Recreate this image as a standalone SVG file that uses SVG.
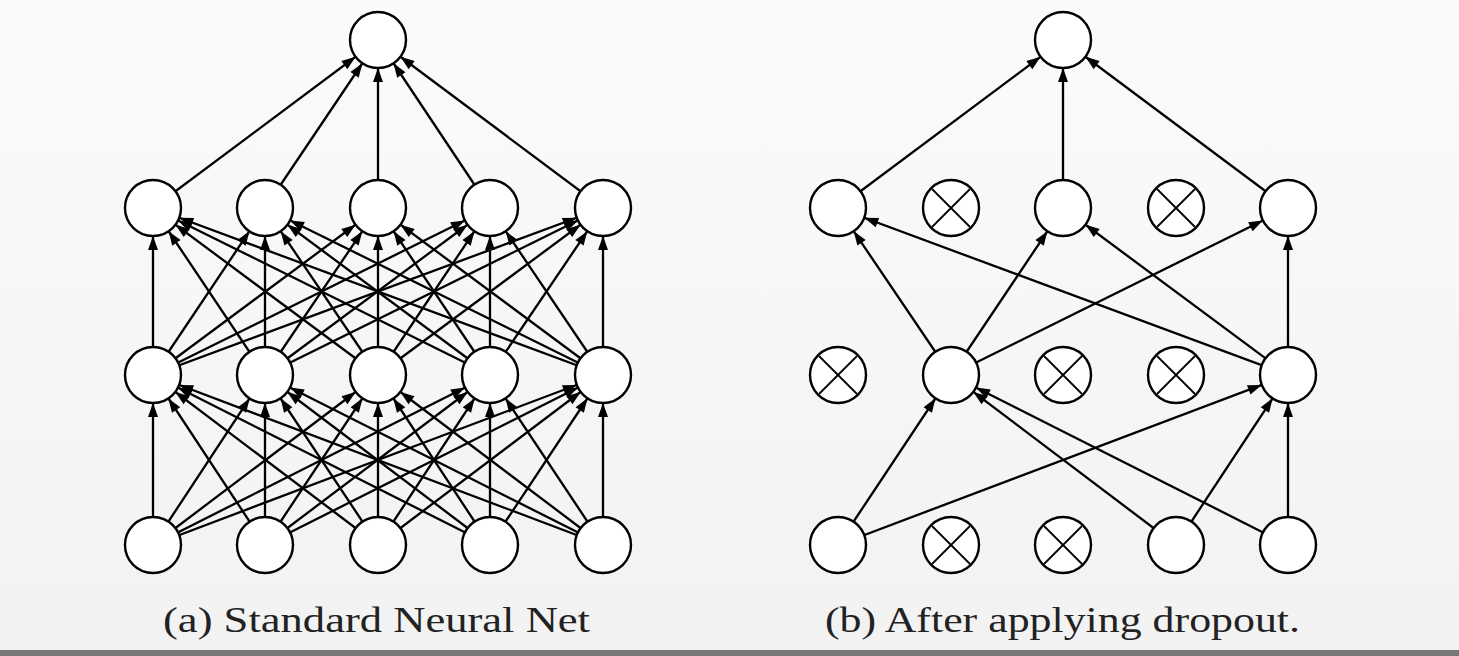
<svg xmlns="http://www.w3.org/2000/svg" width="1459" height="656" viewBox="0 0 1459 656">
<defs>
<marker id="a" markerUnits="userSpaceOnUse" orient="auto" refX="28" refY="0" overflow="visible" markerWidth="20" markerHeight="20"><path d="M-14,-5 L0,0 L-14,5 z" fill="#000"/></marker>
<style>
line.e{stroke:#000;stroke-width:2.3;marker-end:url(#a)}
circle{fill:#fff;stroke:#000;stroke-width:2.4}
.x line{stroke:#000;stroke-width:1.8}
text{font-family:"Liberation Serif",serif;font-size:35px;fill:#222}
</style>
<linearGradient id="bg" x1="0" y1="0" x2="0" y2="1"><stop offset="0" stop-color="#fbfbfb"/><stop offset="1" stop-color="#f2f2f2"/></linearGradient>
</defs>
<rect width="1459" height="656" fill="url(#bg)"/>
<rect y="650" width="1459" height="6" fill="#777"/>
<g id="connectors">
<line class="e" x1="153" y1="545" x2="153" y2="375"/><line class="e" x1="153" y1="545" x2="265" y2="375"/><line class="e" x1="153" y1="545" x2="378" y2="375"/><line class="e" x1="153" y1="545" x2="490" y2="375"/><line class="e" x1="153" y1="545" x2="603" y2="375"/>
<line class="e" x1="265" y1="545" x2="153" y2="375"/><line class="e" x1="265" y1="545" x2="265" y2="375"/><line class="e" x1="265" y1="545" x2="378" y2="375"/><line class="e" x1="265" y1="545" x2="490" y2="375"/><line class="e" x1="265" y1="545" x2="603" y2="375"/>
<line class="e" x1="378" y1="545" x2="153" y2="375"/><line class="e" x1="378" y1="545" x2="265" y2="375"/><line class="e" x1="378" y1="545" x2="378" y2="375"/><line class="e" x1="378" y1="545" x2="490" y2="375"/><line class="e" x1="378" y1="545" x2="603" y2="375"/>
<line class="e" x1="490" y1="545" x2="153" y2="375"/><line class="e" x1="490" y1="545" x2="265" y2="375"/><line class="e" x1="490" y1="545" x2="378" y2="375"/><line class="e" x1="490" y1="545" x2="490" y2="375"/><line class="e" x1="490" y1="545" x2="603" y2="375"/>
<line class="e" x1="603" y1="545" x2="153" y2="375"/><line class="e" x1="603" y1="545" x2="265" y2="375"/><line class="e" x1="603" y1="545" x2="378" y2="375"/><line class="e" x1="603" y1="545" x2="490" y2="375"/><line class="e" x1="603" y1="545" x2="603" y2="375"/>
<line class="e" x1="153" y1="375" x2="153" y2="208"/><line class="e" x1="153" y1="375" x2="265" y2="208"/><line class="e" x1="153" y1="375" x2="378" y2="208"/><line class="e" x1="153" y1="375" x2="490" y2="208"/><line class="e" x1="153" y1="375" x2="603" y2="208"/>
<line class="e" x1="265" y1="375" x2="153" y2="208"/><line class="e" x1="265" y1="375" x2="265" y2="208"/><line class="e" x1="265" y1="375" x2="378" y2="208"/><line class="e" x1="265" y1="375" x2="490" y2="208"/><line class="e" x1="265" y1="375" x2="603" y2="208"/>
<line class="e" x1="378" y1="375" x2="153" y2="208"/><line class="e" x1="378" y1="375" x2="265" y2="208"/><line class="e" x1="378" y1="375" x2="378" y2="208"/><line class="e" x1="378" y1="375" x2="490" y2="208"/><line class="e" x1="378" y1="375" x2="603" y2="208"/>
<line class="e" x1="490" y1="375" x2="153" y2="208"/><line class="e" x1="490" y1="375" x2="265" y2="208"/><line class="e" x1="490" y1="375" x2="378" y2="208"/><line class="e" x1="490" y1="375" x2="490" y2="208"/><line class="e" x1="490" y1="375" x2="603" y2="208"/>
<line class="e" x1="603" y1="375" x2="153" y2="208"/><line class="e" x1="603" y1="375" x2="265" y2="208"/><line class="e" x1="603" y1="375" x2="378" y2="208"/><line class="e" x1="603" y1="375" x2="490" y2="208"/><line class="e" x1="603" y1="375" x2="603" y2="208"/>
<line class="e" x1="153" y1="208" x2="378" y2="40"/><line class="e" x1="265" y1="208" x2="378" y2="40"/><line class="e" x1="378" y1="208" x2="378" y2="40"/><line class="e" x1="490" y1="208" x2="378" y2="40"/><line class="e" x1="603" y1="208" x2="378" y2="40"/>
<line class="e" x1="838" y1="545" x2="951" y2="375"/><line class="e" x1="838" y1="545" x2="1288" y2="375"/>
<line class="e" x1="1176" y1="545" x2="951" y2="375"/><line class="e" x1="1176" y1="545" x2="1288" y2="375"/>
<line class="e" x1="1288" y1="545" x2="951" y2="375"/><line class="e" x1="1288" y1="545" x2="1288" y2="375"/>
<line class="e" x1="951" y1="375" x2="838" y2="208"/><line class="e" x1="951" y1="375" x2="1063" y2="208"/><line class="e" x1="951" y1="375" x2="1288" y2="208"/>
<line class="e" x1="1288" y1="375" x2="838" y2="208"/><line class="e" x1="1288" y1="375" x2="1063" y2="208"/><line class="e" x1="1288" y1="375" x2="1288" y2="208"/>
<line class="e" x1="838" y1="208" x2="1063" y2="40"/><line class="e" x1="1063" y1="208" x2="1063" y2="40"/><line class="e" x1="1288" y1="208" x2="1063" y2="40"/>
</g>
<g id="left-nodes">
<circle cx="378" cy="40" r="28"/>
<circle cx="153" cy="208" r="28"/><circle cx="265" cy="208" r="28"/><circle cx="378" cy="208" r="28"/><circle cx="490" cy="208" r="28"/><circle cx="603" cy="208" r="28"/>
<circle cx="153" cy="375" r="28"/><circle cx="265" cy="375" r="28"/><circle cx="378" cy="375" r="28"/><circle cx="490" cy="375" r="28"/><circle cx="603" cy="375" r="28"/>
<circle cx="153" cy="545" r="28"/><circle cx="265" cy="545" r="28"/><circle cx="378" cy="545" r="28"/><circle cx="490" cy="545" r="28"/><circle cx="603" cy="545" r="28"/>
</g>
<g id="right-nodes">
<circle cx="1063" cy="40" r="28"/>
<circle cx="838" cy="208" r="28"/><circle cx="1063" cy="208" r="28"/><circle cx="1288" cy="208" r="28"/>
<circle cx="951" cy="375" r="28"/><circle cx="1288" cy="375" r="28"/>
<circle cx="838" cy="545" r="28"/><circle cx="1176" cy="545" r="28"/><circle cx="1288" cy="545" r="28"/>
</g>
<g id="dropped">
<g class="x" transform="translate(951,208)"><circle r="28"/><line x1="-19" y1="-19" x2="19" y2="19"/><line x1="-19" y1="19" x2="19" y2="-19"/></g>
<g class="x" transform="translate(1176,208)"><circle r="28"/><line x1="-19" y1="-19" x2="19" y2="19"/><line x1="-19" y1="19" x2="19" y2="-19"/></g>
<g class="x" transform="translate(838,375)"><circle r="28"/><line x1="-19" y1="-19" x2="19" y2="19"/><line x1="-19" y1="19" x2="19" y2="-19"/></g>
<g class="x" transform="translate(1063,375)"><circle r="28"/><line x1="-19" y1="-19" x2="19" y2="19"/><line x1="-19" y1="19" x2="19" y2="-19"/></g>
<g class="x" transform="translate(1176,375)"><circle r="28"/><line x1="-19" y1="-19" x2="19" y2="19"/><line x1="-19" y1="19" x2="19" y2="-19"/></g>
<g class="x" transform="translate(951,545)"><circle r="28"/><line x1="-19" y1="-19" x2="19" y2="19"/><line x1="-19" y1="19" x2="19" y2="-19"/></g>
<g class="x" transform="translate(1063,545)"><circle r="28"/><line x1="-19" y1="-19" x2="19" y2="19"/><line x1="-19" y1="19" x2="19" y2="-19"/></g>
</g>
<text x="163" y="632" textLength="427" lengthAdjust="spacingAndGlyphs">(a) Standard Neural Net</text>
<text x="825" y="632" textLength="475" lengthAdjust="spacingAndGlyphs">(b) After applying dropout.</text>
</svg>
